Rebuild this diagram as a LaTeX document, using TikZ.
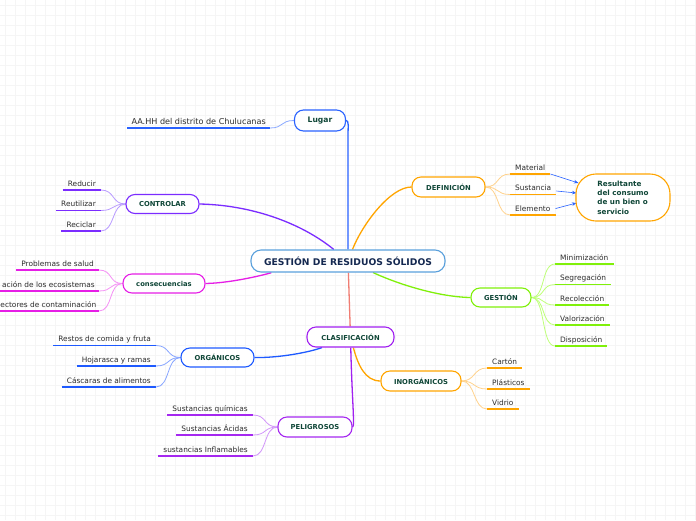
\documentclass[tikz,border=0pt]{standalone}
\usepackage{fontspec}
\setmainfont{DejaVu Sans}
\usetikzlibrary{calc,arrows.meta}
\pgfdeclarelayer{gridlayer}
\pgfdeclarelayer{edgelayer}
\pgfsetlayers{gridlayer,edgelayer,main}
\definecolor{cLug}{RGB}{41,98,255}
\definecolor{cLugL}{RGB}{140,170,255}
\definecolor{cCon}{RGB}{123,44,255}
\definecolor{cConL}{RGB}{185,155,255}
\definecolor{cMag}{RGB}{230,30,230}
\definecolor{cMagL}{RGB}{245,145,245}
\definecolor{cOrg}{RGB}{30,90,255}
\definecolor{cOrgL}{RGB}{135,165,255}
\definecolor{cCla}{RGB}{160,32,240}
\definecolor{cPel}{RGB}{165,40,240}
\definecolor{cPelL}{RGB}{210,150,250}
\definecolor{cSal}{RGB}{240,125,115}
\definecolor{cOra}{RGB}{255,165,0}
\definecolor{cOraL}{RGB}{255,210,140}
\definecolor{cGre}{RGB}{128,240,10}
\definecolor{cGreL}{RGB}{190,255,120}
\definecolor{cCen}{RGB}{90,160,220}
\definecolor{cTxt}{RGB}{15,70,55}
\definecolor{cNavy}{RGB}{20,40,80}
\definecolor{cChild}{RGB}{45,45,45}
\definecolor{cGrid}{RGB}{245,245,245}
\tikzset{
  mainbox/.style={draw, fill=white, line width=1.1pt, rounded corners=9pt,
    inner sep=0pt, text=cTxt, font=\bfseries\fontsize{6.8}{8}\selectfont},
  childL/.style={anchor=south east, inner xsep=5pt, inner ysep=3.5pt,
    text height=5.5pt, text depth=0pt, text=cChild, font=\fontsize{7.4}{9}\selectfont},
  childR/.style={childL, anchor=south west},
  edgetext/.style={childL, anchor=base east, inner sep=0pt},
  uline/.style={line width=1.6pt},
  conn/.style={line width=1.3pt},
  sub/.style={line width=0.8pt}
}
\begin{document}
\begin{tikzpicture}[x=1pt,y=-1pt]
\useasboundingbox (0,0) rectangle (696,520);
\begin{pgfonlayer}{gridlayer}
\fill[white] (0,0) rectangle (696,520);
\foreach \k in {5,15,...,695} \draw[cGrid, line width=0.8pt] (\k,0) -- (\k,520);
\foreach \k in {5,15,...,515} \draw[cGrid, line width=0.8pt] (0,\k) -- (696,\k);
\end{pgfonlayer}

% main nodes
\node[mainbox, draw=cCen, minimum width=194pt, minimum height=22pt, rounded corners=10pt,
  text=cNavy, font=\bfseries\fontsize{9.2}{11}\selectfont] (central) at (348,261) {GESTIÓN DE RESIDUOS SÓLIDOS};
\node[mainbox, draw=cLug, minimum width=51pt, minimum height=21pt,
  font=\bfseries\fontsize{7.6}{9}\selectfont] (lugar) at (320,120.5) {Lugar};
\node[mainbox, draw=cCon, minimum width=73pt, minimum height=19pt] (controlar) at (162.5,204) {CONTROLAR};
\node[mainbox, draw=cMag, minimum width=82pt, minimum height=19pt] (conse) at (164,283.5) {consecuencias};
\node[mainbox, draw=cOrg, minimum width=73pt, minimum height=19pt] (organ) at (217.5,357.5) {ORGÁNICOS};
\node[mainbox, draw=cCla, minimum width=87pt, minimum height=20pt] (clasif) at (350.5,337) {CLASIFICACIÓN};
\node[mainbox, draw=cPel, minimum width=74pt, minimum height=20pt] (pelig) at (315,427) {PELIGROSOS};
\node[mainbox, draw=cOra, minimum width=80pt, minimum height=20pt] (inorg) at (421,381) {INORGÁNICOS};
\node[mainbox, draw=cOra, minimum width=73pt, minimum height=20pt] (defin) at (448.5,187) {DEFINICIÓN};
\node[mainbox, draw=cGre, minimum width=60pt, minimum height=19pt] (gestion) at (501,297.5) {GESTIÓN};
\node[mainbox, draw=cOra, minimum width=94pt, minimum height=47pt, rounded corners=20pt,
  font=\bfseries\fontsize{7.2}{9.3}\selectfont, align=left] (result) at (623,197.5)
  {Resultante\\del consumo\\de un bien o\\servicio};

% children
\node[childL, inner xsep=4pt, text height=6pt, font=\fontsize{8.1}{10}\selectfont] (aahh) at (270,128) {AA.HH del distrito de Chulucanas};
\node[childL] (reducir) at (101,190) {Reducir};
\node[childL] (reutil) at (101,210.5) {Reutilizar};
\node[childL] (recic) at (101,231) {Reciclar};
\node[childL] (salud) at (99,270) {Problemas de salud};
\coordinate (ecoEnd) at (99,291);
\coordinate (ecoStart) at (0,291);
\node[edgetext] (ecosis) at (95,287) {ación de los ecosistemas};
\coordinate (vecEnd) at (99,311);
\coordinate (vecStart) at (0,311);
\node[edgetext] (vectores) at (96.5,307) {ectores de contaminación};
\node[childL] (restos) at (156,345.5) {Restos de comida y fruta};
\node[childL] (hoja) at (156,366) {Hojarasca y ramas};
\node[childL] (cascar) at (156,387) {Cáscaras de alimentos};
\node[childL] (quim) at (253,415) {Sustancias químicas};
\node[childL] (acid) at (253,435) {Sustancias Ácidas};
\node[childL] (infl) at (253,456) {sustancias Inflamables};
\node[childR] (material) at (510,174) {Material};
\node[childR] (sustan) at (510,194.5) {Sustancia};
\node[childR] (elem) at (510,215) {Elemento};
\node[childR] (minim) at (555,264) {Minimización};
\node[childR] (segreg) at (555,284.5) {Segregación};
\node[childR] (recol) at (555,305) {Recolección};
\node[childR] (valor) at (555,325) {Valorización};
\node[childR] (dispo) at (555,346) {Disposición};
\node[childR] (carton) at (487,368) {Cartón};
\node[childR] (plast) at (487,389) {Plásticos};
\node[childR] (vidrio) at (487,409) {Vidrio};

\begin{pgfonlayer}{edgelayer}
% underlines
\foreach \n in {aahh} \draw[uline,cLug] (\n.south west) -- (\n.south east);
\foreach \n in {reducir,reutil,recic} \draw[uline,cCon] (\n.south west) -- (\n.south east);
\foreach \n in {salud} \draw[uline,cMag] (\n.south west) -- (\n.south east);
\draw[uline,cMag] (ecoStart) -- (ecoEnd);
\draw[uline,cMag] (vecStart) -- (vecEnd);
\foreach \n in {restos,hoja,cascar} \draw[uline,cOrg] (\n.south west) -- (\n.south east);
\foreach \n in {quim,acid,infl} \draw[uline,cPel] (\n.south west) -- (\n.south east);
\foreach \n in {material,sustan,elem,carton,plast,vidrio} \draw[uline,cOra] (\n.south west) -- (\n.south east);
\foreach \n in {minim,segreg,recol,valor,dispo} \draw[uline,cGre] (\n.south west) -- (\n.south east);
% sub connectors (left)
\draw[sub,cLugL] (lugar.west) .. controls +(-14,0) and +(14,0) .. (aahh.south east);
\foreach \n in {reducir,reutil,recic} \draw[sub,cConL] (controlar.west) .. controls +(-14,0) and +(14,0) .. (\n.south east);
\draw[sub,cMagL] (conse.west) .. controls +(-14,0) and +(14,0) .. (salud.south east);
\draw[sub,cMagL] (conse.west) .. controls +(-14,0) and +(14,0) .. (ecoEnd);
\draw[sub,cMagL] (conse.west) .. controls +(-14,0) and +(14,0) .. (vecEnd);
\foreach \n in {restos,hoja,cascar} \draw[sub,cOrgL] (organ.west) .. controls +(-14,0) and +(14,0) .. (\n.south east);
\foreach \n in {quim,acid,infl} \draw[sub,cPelL] (pelig.west) .. controls +(-14,0) and +(14,0) .. (\n.south east);
% sub connectors (right)
\foreach \n in {material,sustan,elem} \draw[sub,cOraL] (defin.east) .. controls +(14,0) and +(-14,0) .. (\n.south west);
\foreach \n in {carton,plast,vidrio} \draw[sub,cOraL] (inorg.east) .. controls +(14,0) and +(-14,0) .. (\n.south west);
\foreach \n in {minim,segreg,recol,valor,dispo} \draw[sub,cGreL] (gestion.east) .. controls +(14,0) and +(-14,0) .. (\n.south west);
% main connectors
\draw[conn,cLug] (central.north) -- ++(0,-112) .. controls +(0,-12) and +(3,0) .. (lugar.east);
\draw[conn,cCon] (controlar.east) .. controls (250,205) and (300,222) .. (central);
\draw[conn,cMag] (conse.east) .. controls (235,283) and (275,272) .. (central);
\draw[conn,cSal] (central) -- (clasif);
\draw[conn,cOra] (central) .. controls (362,225) and (390,187) .. (defin.west);
\draw[conn,cGre] (central) .. controls (400,285) and (440,297) .. (gestion.west);
\draw[conn,cOrg] (organ.east) .. controls (280,358) and (310,352) .. (clasif);
\draw[conn,cCla] (clasif) .. controls (352,400) and (355,427) .. (pelig.east);
\draw[conn,cOra] (clasif) .. controls (358,365) and (365,381) .. (inorg.west);
% arrows to result
\draw[cLug,line width=0.6pt,-{Stealth[length=4.5pt,width=3.5pt]}] (material.south east) -- ($(result.west)+(3,-14.5)$);
\draw[cLug,line width=0.6pt,-{Stealth[length=4.5pt,width=3.5pt]}] ($(sustan.south east)+(0,-3.5)$) -- ($(result.west)+(1,-4.5)$);
\draw[cLug,line width=0.6pt,-{Stealth[length=4.5pt,width=3.5pt]}] (elem.east) -- ($(result.west)+(1,5.5)$);
\end{pgfonlayer}
\end{tikzpicture}
\end{document}
